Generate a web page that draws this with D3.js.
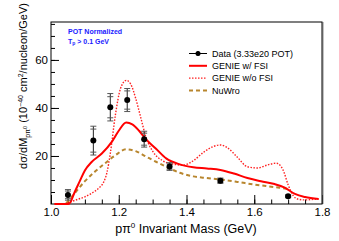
<!DOCTYPE html>
<html>
<head>
<meta charset="utf-8">
<script src="https://cdn.jsdelivr.net/npm/d3@7"></script>
<style>
  body { margin: 0; background: #fff; }
  svg { display: block; font-family: "Liberation Sans", Arial, sans-serif; }
</style>
</head>
<body>
<svg id="chart" width="339" height="241"></svg>
<script>
// data points (3.33e20 POT)
const dataX = [1.05, 1.125, 1.175, 1.225, 1.275, 1.35, 1.5, 1.7];
const dataY = [3.8, 26.4, 40.3, 43.3, 27.0, 15.6, 9.7, 3.2];
const dataErrTot = [2.2, 6.0, 5.7, 4.8, 3.3, 1.6, 1.1, 0.6];
const dataErrStat = [1.6, 4.8, 4.4, 3.8, 2.5, 1.1, 0.7, 0.4];

// GENIE w/ FSI
const genieX = [1.01, 1.05, 1.056, 1.07, 1.085, 1.1, 1.12, 1.15, 1.18, 1.2, 1.222, 1.24, 1.26, 1.28, 1.31, 1.34, 1.38, 1.42, 1.46, 1.5, 1.54, 1.58, 1.62, 1.66, 1.69, 1.72, 1.75, 1.79];
const genieY = [0, 0, 0.5, 5, 9.5, 14, 17.5, 21, 26, 30.5, 33.9, 33.2, 30.5, 27, 23, 19, 16.5, 15.3, 14.8, 14.2, 12.7, 10.8, 9.5, 8.3, 6.8, 4.2, 2.9, 2.1];

// GENIE w/o FSI
const noFsiX = [1.04, 1.06, 1.08, 1.1, 1.12, 1.14, 1.155, 1.165, 1.175, 1.19, 1.205, 1.222, 1.235, 1.25, 1.265, 1.28, 1.3, 1.33, 1.36, 1.39, 1.42, 1.45, 1.48, 1.5, 1.52, 1.55, 1.58, 1.61, 1.64, 1.665, 1.685, 1.7, 1.715, 1.73, 1.75, 1.78, 1.79];
const noFsiY = [0, 1, 2, 3, 4.5, 6.5, 9, 13, 21, 37, 48, 51.5, 50, 44, 36, 28, 22, 18, 16.6, 16.2, 18, 21.5, 24, 24.6, 23.5, 19.5, 15.5, 15, 16.3, 17, 14.2, 8, 3.5, 2, 1.7, 2, 2.1];

// NuWro
const nuwroX = [1.045, 1.07, 1.1, 1.13, 1.16, 1.19, 1.222, 1.25, 1.28, 1.31, 1.34, 1.38, 1.42, 1.46, 1.5, 1.55, 1.6, 1.65, 1.7];
const nuwroY = [0.3, 4.5, 9.5, 13.5, 17, 20.3, 22.8, 22, 19.8, 17.6, 15.5, 13, 11.5, 10.8, 10.2, 9.2, 8.1, 7.2, 6.3];

const xTicks = [1.0, 1.2, 1.4, 1.6, 1.8];
const yTicks = [20, 40, 60];

const legendLabels = ['Data (3.33e20 POT)', 'GENIE w/ FSI', 'GENIE w/o FSI', 'NuWro'];

const svg = d3.select('#chart');
const mLeft = 51, mRight = 322, mTop = 22, mBottom = 204;

const x = d3.scaleLinear().domain([1.0, 1.8]).range([mLeft, mRight]);
const y = d3.scaleLinear().domain([0, 75.8]).range([mBottom, mTop]);

svg.append('rect').attr('width', 339).attr('height', 241).attr('fill', '#fff');

// minor ticks
svg.append('g')
    .attr('transform', `translate(0,${mBottom})`)
    .call(d3.axisBottom(x).tickValues(d3.range(1.05, 1.8, 0.05)).tickSize(-4.5).tickFormat(''))
    .call(g => g.select('.domain').remove());
svg.append('g')
    .attr('transform', `translate(${mLeft},0)`)
    .call(d3.axisLeft(y).tickValues(d3.range(5, 76, 5)).tickSize(-4).tickFormat(''))
    .call(g => g.select('.domain').remove());

// major ticks
svg.append('g')
    .attr('transform', `translate(0,${mBottom})`)
    .call(d3.axisBottom(x).tickValues(xTicks).tickSize(-9).tickPadding(4).tickFormat(d3.format('.1f')))
    .call(g => g.select('.domain').remove())
    .call(g => g.selectAll('text').attr('font-size', 11.5).attr('fill', '#000'));
svg.append('g')
    .attr('transform', `translate(${mLeft},0)`)
    .call(d3.axisLeft(y).tickValues(yTicks).tickSize(-8).tickPadding(3))
    .call(g => g.select('.domain').remove())
    .call(g => g.selectAll('text').attr('font-size', 11.5).attr('fill', '#000'));

// frame
svg.append('line').attr('x1', mRight + 1).attr('x2', mRight + 1).attr('y1', mTop).attr('y2', mBottom)
    .attr('stroke', '#999').attr('stroke-width', 1.2);
svg.append('rect').attr('x', mLeft).attr('y', mTop).attr('width', mRight - mLeft).attr('height', mBottom - mTop)
    .attr('fill', 'none').attr('stroke', '#000').attr('stroke-width', 1);

const line = d3.line().x(d => x(d[0])).y(d => y(d[1])).curve(d3.curveMonotoneX);

svg.append('path').datum(d3.zip(nuwroX, nuwroY)).attr('d', line)
    .attr('fill', 'none').attr('stroke', '#b8862e').attr('stroke-width', 2).attr('stroke-dasharray', '4,3');
svg.append('path').datum(d3.zip(noFsiX, noFsiY)).attr('d', line)
    .attr('fill', 'none').attr('stroke', '#ff2020').attr('stroke-width', 1.4).attr('stroke-dasharray', '1.5,1.5');
svg.append('path').datum(d3.zip(genieX, genieY)).attr('d', line)
    .attr('fill', 'none').attr('stroke', '#ff0000').attr('stroke-width', 2);

// data points
const pts = svg.append('g');
dataX.forEach((dx, i) => {
    const cx = x(dx);
    const g = pts.append('g').attr('stroke', '#222').attr('stroke-width', 1);
    g.append('line').attr('x1', cx).attr('x2', cx)
        .attr('y1', y(dataY[i] - dataErrTot[i])).attr('y2', y(dataY[i] + dataErrTot[i]));
    [dataErrTot[i], dataErrStat[i]].forEach(e => {
        [1, -1].forEach(s => {
            g.append('line').attr('x1', cx - 3).attr('x2', cx + 3)
                .attr('y1', y(dataY[i] + s * e)).attr('y2', y(dataY[i] + s * e))
                .attr('stroke', '#555');
        });
    });
    pts.append('circle').attr('cx', cx).attr('cy', y(dataY[i])).attr('r', 3).attr('fill', '#000');
});

// legend
const lg = svg.append('g').attr('font-size', 9);
const lx0 = 189, lx1 = 207, ly0 = 53.5, ldy = 12.3;
legendLabels.forEach((t, i) => {
    const ly = ly0 + i * ldy;
    lg.append('text').attr('x', 212).attr('y', ly).attr('dy', '0.35em').text(t);
});
lg.append('line').attr('x1', lx0).attr('x2', lx1).attr('y1', ly0).attr('y2', ly0).attr('stroke', '#000').attr('stroke-width', 1);
lg.append('line').attr('x1', (lx0 + lx1) / 2).attr('x2', (lx0 + lx1) / 2).attr('y1', ly0 - 2.5).attr('y2', ly0 + 2.5).attr('stroke', '#000');
lg.append('circle').attr('cx', (lx0 + lx1) / 2).attr('cy', ly0).attr('r', 2.5);
lg.append('line').attr('x1', lx0).attr('x2', lx1).attr('y1', ly0 + ldy).attr('y2', ly0 + ldy).attr('stroke', '#ff0000').attr('stroke-width', 2);
lg.append('line').attr('x1', lx0).attr('x2', lx1).attr('y1', ly0 + 2 * ldy).attr('y2', ly0 + 2 * ldy)
    .attr('stroke', '#ff2020').attr('stroke-width', 1.3).attr('stroke-dasharray', '1.5,1.5');
lg.append('line').attr('x1', lx0).attr('x2', lx1).attr('y1', ly0 + 3 * ldy).attr('y2', ly0 + 3 * ldy)
    .attr('stroke', '#b8862e').attr('stroke-width', 2).attr('stroke-dasharray', '4,3');

// annotation
const ann = svg.append('g').attr('fill', '#1a1aff').attr('font-weight', 'bold').attr('font-size', 7);
ann.append('text').attr('x', 68).attr('y', 34).text('POT Normalized');
const t2 = ann.append('text').attr('x', 68).attr('y', 43.5);
t2.append('tspan').text('T');
t2.append('tspan').attr('font-size', 5).attr('dy', 1.5).text('p');
t2.append('tspan').attr('dy', -1.5).text(' > 0.1 GeV');

// axis titles
const xt = svg.append('text').attr('x', 186).attr('y', 233).attr('text-anchor', 'middle').attr('font-size', 12.5);
xt.append('tspan').text('pπ');
xt.append('tspan').attr('font-size', 8).attr('dy', -5).text('0');
xt.append('tspan').attr('dy', 5).text(' Invariant Mass (GeV)');

const yt = svg.append('text').attr('transform', 'translate(27,86) rotate(-90)').attr('text-anchor', 'middle').attr('font-size', 11);
yt.append('tspan').text('dσ/dM');
yt.append('tspan').attr('font-size', 7).attr('dy', 3).text('pπ');
yt.append('tspan').attr('font-size', 5.5).attr('dy', -3).text('0');
yt.append('tspan').attr('dy', 0).text(' (10');
yt.append('tspan').attr('font-size', 7).attr('dy', -4.5).text('−40');
yt.append('tspan').attr('dy', 4.5).text(' cm');
yt.append('tspan').attr('font-size', 7).attr('dy', -4.5).text('2');
yt.append('tspan').attr('dy', 4.5).text('/nucleon/GeV)');
</script>
</body>
</html>
